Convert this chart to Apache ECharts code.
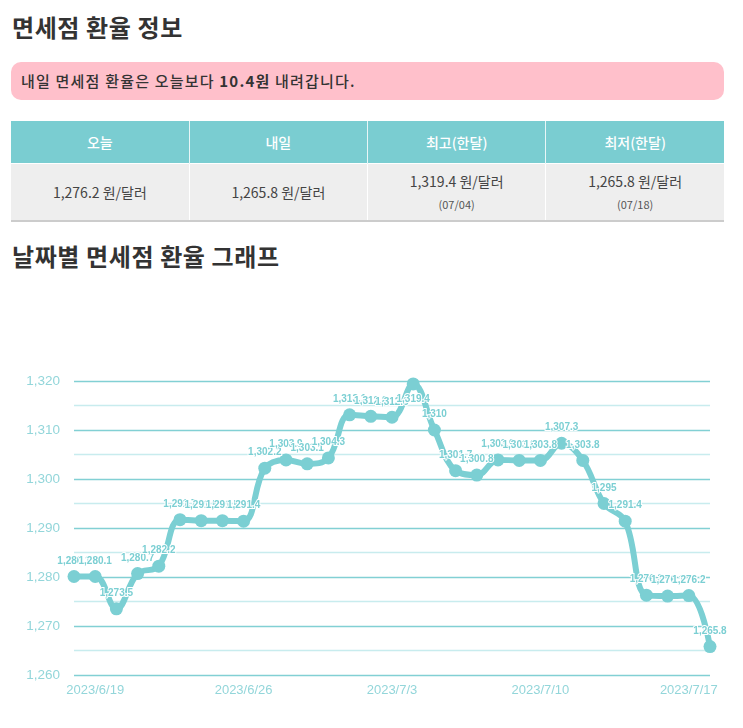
<!DOCTYPE html>
<html><head><meta charset="utf-8">
<script src="https://cdn.jsdelivr.net/npm/echarts@6/dist/echarts.min.js"></script>
<style>
html,body{margin:0;padding:0;background:#fff;width:743px;height:728px;overflow:hidden;font-family:"Noto Sans CJK KR","Noto Sans",sans-serif;color:#333;}
.h{position:absolute;left:12px;font-size:24px;font-weight:700;color:#333;margin:0;line-height:30px;letter-spacing:0.6px;}
#t1{top:12px;}
#t2{top:241px;}
.notice{position:absolute;left:11px;top:62px;width:713px;height:38px;background:#ffc0cb;border-radius:10px;box-sizing:border-box;padding-left:10px;line-height:38px;font-size:15px;letter-spacing:1.2px;font-weight:500;color:#333;}
.notice b{font-weight:700;}
table{position:absolute;left:11px;top:121px;width:713px;border-collapse:collapse;table-layout:fixed;}
th{background:#7acdd1;color:#fff;height:42px;font-size:14px;font-weight:500;border-left:1px solid #e8f6f7;padding:0;}
td{background:#eee;height:56px;font-size:14px;color:#444;text-align:center;border-left:1px solid #fff;border-top:1px solid #fff;border-bottom:2px solid #ccc;padding:0;line-height:22px;}
th:first-child,td:first-child{border-left:none;}
td small{font-size:11px;color:#555;}
#chart{position:absolute;left:0;top:280px;width:743px;height:448px;}
</style></head>
<body>
<h2 class="h" id="t1">면세점 환율 정보</h2>
<div class="notice">내일 면세점 환율은 오늘보다 <b>10.4원</b> 내려갑니다.</div>
<table>
<tr><th>오늘</th><th>내일</th><th>최고(한달)</th><th>최저(한달)</th></tr>
<tr><td>1,276.2 원/달러</td><td>1,265.8 원/달러</td><td>1,319.4 원/달러<br><small>(07/04)</small></td><td>1,265.8 원/달러<br><small>(07/18)</small></td></tr>
</table>
<h2 class="h" id="t2">날짜별 면세점 환율 그래프</h2>
<div id="chart"></div>
<script>
const dates = ['2023/6/18','2023/6/19','2023/6/20','2023/6/21','2023/6/22','2023/6/23','2023/6/24','2023/6/25','2023/6/26','2023/6/27','2023/6/28','2023/6/29','2023/6/30','2023/7/1','2023/7/2','2023/7/3','2023/7/4','2023/7/5','2023/7/6','2023/7/7','2023/7/8','2023/7/9','2023/7/10','2023/7/11','2023/7/12','2023/7/13','2023/7/14','2023/7/15','2023/7/16','2023/7/17','2023/7/18'];
const rates = [1280.1,1280.1,1273.5,1280.7,1282.2,1291.7,1291.5,1291.5,1291.4,1302.2,1303.9,1303.1,1304.3,1313.1,1312.8,1312.6,1319.4,1310,1301.7,1300.8,1303.9,1303.8,1303.8,1307.3,1303.8,1295,1291.4,1276.3,1276.1,1276.2,1265.8];
const yMin = 1260, yMax = 1320, yStep = 5;
const labelIdx = [1,8,15,22,29];

const C = '#7bcfd3';
const fmt = v => v.toLocaleString('en-US',{maximumFractionDigits:1});
const maxV = Math.max(...rates);
const chart = echarts.init(document.getElementById('chart'));
chart.setOption({
  animation:false,
  grid:{left:74,right:33,top:101,bottom:53},
  xAxis:{type:'category',data:dates,boundaryGap:false,
    axisLine:{show:false},axisTick:{show:false},
    axisLabel:{color:'#93d6da',fontSize:13,fontFamily:'Arial, Liberation Sans',margin:9,
      interval:(i)=>labelIdx.includes(i)},
    splitLine:{show:false}},
  yAxis:{type:'value',min:yMin,max:yMax,interval:yStep,
    axisLine:{show:false},axisTick:{show:false},
    axisLabel:{color:'#93d6da',fontSize:13.5,fontFamily:'Arial, Liberation Sans',margin:14,
      formatter:v=> (v%10===0? fmt(v):'')},
    splitLine:{lineStyle:{color:['#82d0d4','#c8ecee'],width:1.3}}},
  series:[{type:'line',smooth:0.4,
    data:rates.map(v=> v===maxV ? {value:v,label:{position:'bottom'}} : v),
    lineStyle:{color:C,width:6},
    itemStyle:{color:C},
    symbol:'circle',symbolSize:13,
    label:{show:true,position:'top',distance:4,color:C,fontSize:10,fontWeight:'bold',
      fontFamily:'Arial, Liberation Sans',textBorderColor:'#fff',textBorderWidth:2,
      formatter:p=>fmt(p.value)},
    labelLayout:{hideOverlap:false}
  }]
});
</script>
</body></html>
